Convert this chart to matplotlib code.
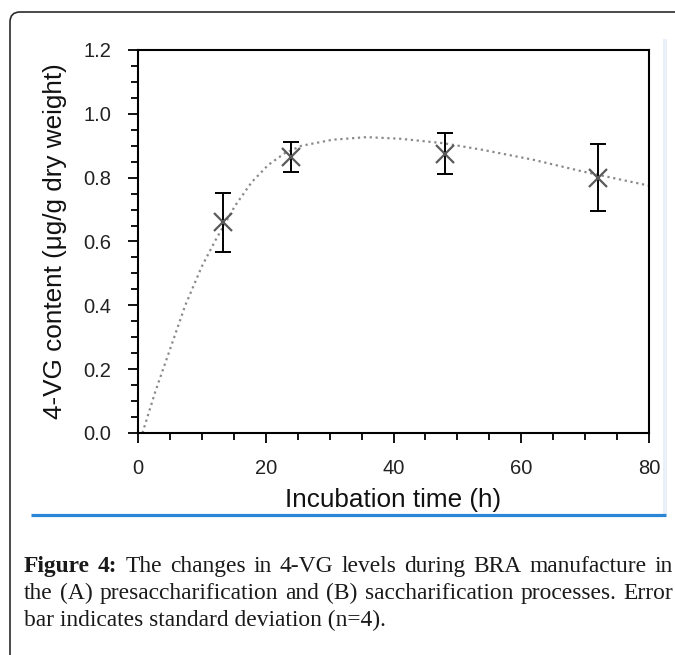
import matplotlib
matplotlib.use("Agg")
import matplotlib.pyplot as plt
from matplotlib.patches import FancyBboxPatch, Rectangle
from matplotlib.ticker import MultipleLocator

# ------------------------------------------- #
#  Data                 #
# ------------------------------------------- #
time_h = [13.3, 24, 48, 72]
vg_content = [0.66, 0.865, 0.875, 0.80]
vg_sd = [0.092, 0.046, 0.065, 0.106]

# dotted trend line, sampled along the drawn curve
trend_x = [0.7, 2.7, 4.8, 7.4, 10.0, 12.1, 15.2, 17.8, 20.4, 23.0, 25.6,
           30.5, 35.8, 41.0, 47.8, 54.0, 61.9, 69.7, 80.0]
trend_y = [0.0, 0.129, 0.250, 0.400, 0.522, 0.603, 0.712, 0.786, 0.840, 0.877, 0.900,
           0.919, 0.927, 0.922, 0.908, 0.887, 0.856, 0.819, 0.775]

x_label = "Incubation time (h)"
y_label = "4-VG content (\u03bcg/g dry weight)"

caption_lines = [
    [("Figure", True), ("4:", True), ("The", False), ("changes", False), ("in", False),
     ("4-VG", False), ("levels", False), ("during", False), ("BRA", False),
     ("manufacture", False), ("in", False)],
    [("the", False), ("(A)", False), ("presaccharification", False), ("and", False),
     ("(B)", False), ("saccharification", False), ("processes.", False), ("Error", False)],
    [("bar indicates standard deviation (n=4).", False)],
]

SANS = ["Liberation Sans", "DejaVu Sans"]
SERIF = ["Liberation Serif", "DejaVu Serif"]

# ------------------------------------------- #
#  Figure + page decorations (pixel coords)   #
# ------------------------------------------- #
W, H = 675, 655
fig = plt.figure(figsize=(W / 100, H / 100), dpi=100)
bg = fig.add_axes([0, 0, 1, 1], zorder=0)
bg.set_xlim(0, W)
bg.set_ylim(H, 0)
bg.axis("off")

frame = FancyBboxPatch((10, 12), 800, 800, boxstyle="round,pad=0,rounding_size=10",
                       fill=False, edgecolor="#2b2b2b", linewidth=1.2)
bg.add_patch(frame)
bg.add_patch(Rectangle((662.5, 39), 4, 476, color="#e9f0f9", linewidth=0))
bg.plot([31, 666], [515, 515], color="#2a86d6", linewidth=2.3, solid_capstyle="butt")

# ------------------------------------------- #
#  Main chart                                 #
# ------------------------------------------- #
ax = fig.add_axes([138 / W, 1 - 433 / H, (649 - 138) / W, (433 - 50) / H], zorder=2)
ax.plot(trend_x, trend_y, linestyle=":", color="#8a8a8a", linewidth=1.6, zorder=2)
ax.errorbar(time_h, vg_content, yerr=vg_sd, fmt="none", ecolor="black",
            elinewidth=1.4, capsize=5.5, capthick=1.4, zorder=3)
ax.plot(time_h, vg_content, linestyle="none", marker="x", markersize=13,
        markeredgewidth=1.6, color="#5a5a5a", zorder=4)

ax.set_xlim(0, 80)
ax.set_ylim(0, 1.2)
ax.xaxis.set_major_locator(MultipleLocator(20))
ax.xaxis.set_minor_locator(MultipleLocator(5))
ax.yaxis.set_major_locator(MultipleLocator(0.2))
ax.yaxis.set_minor_locator(MultipleLocator(0.05))
ax.yaxis.set_major_formatter(matplotlib.ticker.FormatStrFormatter("%.1f"))

for s in ax.spines.values():
    s.set_linewidth(1.5)
ax.tick_params(which="major", direction="out", length=7, width=1.3, pad=12,
               labelsize=14.5, labelcolor="#222222")
ax.tick_params(which="minor", direction="out", length=5, width=1.3)
for lab in ax.get_xticklabels() + ax.get_yticklabels():
    lab.set_family(SANS)

ax.set_xlabel(x_label, fontsize=18.8, family=SANS, color="#111111", labelpad=7)
ax.set_ylabel(y_label, fontsize=18.8, family=SANS, color="#111111", labelpad=12)

# ------------------------------------------- #
#  Caption (justified like the journal page)  #
# ------------------------------------------- #
renderer = fig.canvas.get_renderer()

# size the serif font so the second caption line fills the column naturally
probe = bg.text(0, 0, " ".join(w for w, _ in caption_lines[1]), fontsize=10, family=SERIF)
cap_size = 10 * 640 / probe.get_window_extent(renderer).width
probe.remove()

x_left, x_right = 24, 673
baselines = [572, 599, 626]
for i, tokens in enumerate(caption_lines):
    texts, widths = [], []
    for word, bold in tokens:
        t = bg.text(0, baselines[i], word, fontsize=cap_size, family=SERIF,
                    fontweight="bold" if bold else "normal", color="#1a1a1a",
                    va="baseline", ha="left")
        texts.append(t)
        widths.append(t.get_window_extent(renderer).width)
    if len(texts) > 1:
        gap = (x_right - x_left - sum(widths)) / (len(texts) - 1)
    else:
        gap = 0
    x = x_left
    for t, w in zip(texts, widths):
        t.set_x(x)
        x += w + gap

fig.savefig("out.png", dpi=100)
